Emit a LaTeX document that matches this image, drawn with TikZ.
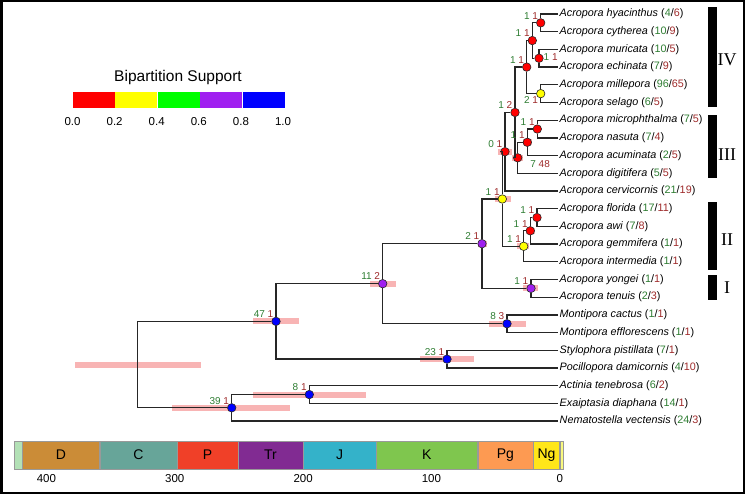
\documentclass[tikz,border=0pt]{standalone}
\usepackage{xcolor}
\usepackage{fontspec}
\setmainfont{Liberation Sans}
\newfontfamily\romanfont{Liberation Serif}
\usepackage{tikz}
\usetikzlibrary{positioning, backgrounds}
\definecolor{Ink}{HTML}{262626}
\definecolor{Hpd}{HTML}{F8B4B4}
\definecolor{SupGreen}{HTML}{2E7D32}
\definecolor{SupRed}{HTML}{9E2A2A}
\definecolor{PPRed}{HTML}{FF0000}
\definecolor{PPYellow}{HTML}{FFFF00}
\definecolor{PPGreen}{HTML}{00FF00}
\definecolor{PPPurple}{HTML}{A020F0}
\definecolor{PPBlue}{HTML}{0000FF}
\definecolor{Sil}{HTML}{B3E1B6}
\definecolor{Dev}{HTML}{CB8C37}
\definecolor{Carb}{HTML}{67A599}
\definecolor{Perm}{HTML}{F04028}
\definecolor{Tria}{HTML}{812B92}
\definecolor{Jura}{HTML}{34B2C9}
\definecolor{Cret}{HTML}{7FC64E}
\definecolor{Pale}{HTML}{FD9A52}
\definecolor{Neog}{HTML}{FFE619}
\definecolor{Quat}{HTML}{F9F97F}
\newcommand{\taxon}[3]{\textit{#1} ({\color{SupGreen}#2}/{\color{SupRed}#3})}
\newcommand{\supp}[2]{{\color{SupGreen}#1}\ {\color{SupRed}#2}}

\begin{document}
\begin{tikzpicture}[
  x=1pt, y=-1pt,
  font=\fontsize{10.8}{13}\selectfont,
  branch/.style={draw=Ink, line width=1.3pt},
  split/.style={circle, draw=Ink, line width=0.6pt, inner sep=0pt, minimum size=8.5pt},
  pp0/.style={split, fill=PPRed},
  pp2/.style={split, fill=PPYellow},
  pp6/.style={split, fill=PPPurple},
  pp8/.style={split, fill=PPBlue},
  tip/.style={anchor=west, inner xsep=1.5pt, inner ysep=1pt},
  supnum/.style={inner sep=0.5pt, font=\fontsize{10}{12}\selectfont},
  bs/.style={supnum, anchor=south east, xshift=-2pt, yshift=3pt},
  hpd/.style={fill=Hpd},
  key/.style={minimum width=42.1pt, minimum height=16pt, inner sep=0pt},
  keylab/.style={font=\fontsize{11.5}{13}\selectfont},
  period/.style={draw=black!40, line width=0.4pt, minimum height=28pt, inner sep=0pt, font=\fontsize{14}{16}\selectfont},
  tick/.style={font=\fontsize{11.5}{13}\selectfont},
  cladebar/.style={fill=black, minimum width=9pt, inner sep=0pt},
  cladelab/.style={font=\romanfont\fontsize{18}{20}\selectfont}
]
\useasboundingbox (0,0) rectangle (745,494);

\node[tip] (t1) at (558,14.0) {\taxon{Acropora hyacinthus}{4}{6}};
\node[tip] (t2) at (558,31.7) {\taxon{Acropora cytherea}{10}{9}};
\node[tip] (t3) at (558,49.4) {\taxon{Acropora muricata}{10}{5}};
\node[tip] (t4) at (558,67.1) {\taxon{Acropora echinata}{7}{9}};
\node[tip] (t5) at (558,84.8) {\taxon{Acropora millepora}{96}{65}};
\node[tip] (t6) at (558,102.5) {\taxon{Acropora selago}{6}{5}};
\node[tip] (t7) at (558,120.2) {\taxon{Acropora microphthalma}{7}{5}};
\node[tip] (t8) at (558,137.9) {\taxon{Acropora nasuta}{7}{4}};
\node[tip] (t9) at (558,155.6) {\taxon{Acropora acuminata}{2}{5}};
\node[tip] (t10) at (558,173.3) {\taxon{Acropora digitifera}{5}{5}};
\node[tip] (t11) at (558,191.0) {\taxon{Acropora cervicornis}{21}{19}};
\node[tip] (t12) at (558,208.7) {\taxon{Acropora florida}{17}{11}};
\node[tip] (t13) at (558,226.4) {\taxon{Acropora awi}{7}{8}};
\node[tip] (t14) at (558,244.1) {\taxon{Acropora gemmifera}{1}{1}};
\node[tip] (t15) at (558,261.8) {\taxon{Acropora intermedia}{1}{1}};
\node[tip] (t16) at (558,279.5) {\taxon{Acropora yongei}{1}{1}};
\node[tip] (t17) at (558,297.2) {\taxon{Acropora tenuis}{2}{3}};
\node[tip] (t18) at (558,314.9) {\taxon{Montipora cactus}{1}{1}};
\node[tip] (t19) at (558,332.6) {\taxon{Montipora efflorescens}{1}{1}};
\node[tip] (t20) at (558,350.3) {\taxon{Stylophora pistillata}{7}{1}};
\node[tip] (t21) at (558,368.0) {\taxon{Pocillopora damicornis}{4}{10}};
\node[tip] (t22) at (558,385.7) {\taxon{Actinia tenebrosa}{6}{2}};
\node[tip] (t23) at (558,403.4) {\taxon{Exaiptasia diaphana}{14}{1}};
\node[tip] (t24) at (558,421.1) {\taxon{Nematostella vectensis}{24}{3}};

\node[pp0] (A) at (540.7,22.85) {};
\node[pp0] (B) at (539.0,58.25) {};
\node[pp0] (C) at (532.3,40.55) {};
\node[pp2] (D) at (540.7,93.65) {};
\node[pp0] (E) at (526.7,67.1) {};
\node[pp0] (G) at (537.3,129.05) {};
\node[pp0] (H) at (527.3,142.3) {};
\node[pp0] (I) at (517.7,157.8) {};
\node[pp0] (F) at (515.0,112.45) {};
\node[pp0] (J) at (505.0,151.7) {};
\node[pp0] (L) at (537.0,217.55) {};
\node[pp0] (M) at (530.3,230.8) {};
\node[pp2] (N) at (523.7,246.3) {};
\node[pp2] (K) at (502.3,199.0) {};
\node[pp6] (O) at (531.0,288.35) {};
\node[pp6] (P) at (482.0,243.7) {};
\node[pp8] (R) at (507.0,323.75) {};
\node[pp6] (Q) at (382.7,283.7) {};
\node[pp8] (S) at (447.0,359.15) {};
\node[pp8] (T) at (276.0,321.4) {};
\node[pp8] (U) at (309.3,394.55) {};
\node[pp8] (V) at (231.7,407.8) {};
\coordinate (W) at (137.7,364.6);

\draw[branch] (t1) -| (A) |- (t2);
\draw[branch] (t3) -| (B) |- (t4);
\draw[branch] (A) -| (C) |- (B);
\draw[branch] (t5) -| (D) |- (t6);
\draw[branch] (C) -| (E) |- (D);
\draw[branch] (t7) -| (G) |- (t8);
\draw[branch] (G) -| (H) |- (t9);
\draw[branch] (H) -| (I) |- (t10);
\draw[branch] (E) -| (F) |- (I);
\draw[branch] (F) -| (J) |- (t11);
\draw[branch] (t12) -| (L) |- (t13);
\draw[branch] (L) -| (M) |- (t14);
\draw[branch] (M) -| (N) |- (t15);
\draw[branch] (J) -| (K) |- (N);
\draw[branch] (t16) -| (O) |- (t17);
\draw[branch] (K) -| (P) |- (O);
\draw[branch] (t18) -| (R) |- (t19);
\draw[branch] (P) -| (Q) |- (R);
\draw[branch] (t20) -| (S) |- (t21);
\draw[branch] (Q) -| (T) |- (S);
\draw[branch] (t22) -| (U) |- (t23);
\draw[branch] (U) -| (V) |- (t24);
\draw[branch] (T) -| (W) |- (V);

\begin{scope}[on background layer]
\fill[hpd] (75,361.6) rectangle (201,367.6);
\fill[hpd] (252.7,318.4) rectangle (299.3,324.4);
\fill[hpd] (370,280.7) rectangle (395.7,286.7);
\fill[hpd] (489.3,320.75) rectangle (525.7,326.75);
\fill[hpd] (420,356.15) rectangle (474.3,362.15);
\fill[hpd] (253.3,391.55) rectangle (365.7,397.55);
\fill[hpd] (172.3,404.8) rectangle (290,410.8);
\fill[hpd] (478,240.7) rectangle (487,246.7);
\fill[hpd] (523,285.35) rectangle (538,291.35);
\fill[hpd] (495,196) rectangle (510.5,202);
\fill[hpd] (517,243.3) rectangle (529,249.3);
\fill[hpd] (526,227.8) rectangle (535,233.8);
\fill[hpd] (534,214.55) rectangle (540,220.55);
\fill[hpd] (497.5,148.7) rectangle (512,154.7);
\fill[hpd] (512.3,154.8) rectangle (523.3,160.8);
\fill[hpd] (523,139.3) rectangle (532,145.3);
\fill[hpd] (535,126.05) rectangle (541,132.05);
\fill[hpd] (511,109.45) rectangle (519,115.45);
\fill[hpd] (523,64.1) rectangle (530,70.1);
\fill[hpd] (529,37.55) rectangle (535,43.55);
\fill[hpd] (538,19.85) rectangle (543,25.85);
\fill[hpd] (536,55.25) rectangle (542,61.25);
\end{scope}

\node[bs] (A-s) at (A) {\supp{1}{1}};
\node[supnum, anchor=west, xshift=4pt, yshift=1pt] (B-s) at (B) {\supp{1}{1}};
\node[bs] (C-s) at (C) {\supp{1}{1}};
\node[supnum, anchor=north east, xshift=-2pt, yshift=-2.5pt] (D-s) at (D) {\supp{2}{1}};
\node[bs] (E-s) at (E) {\supp{1}{1}};
\node[bs] (F-s) at (F) {\supp{1}{2}};
\node[bs] (G-s) at (G) {\supp{1}{1}};
\node[bs] (H-s) at (H) {\supp{1}{1}};
\node[supnum, anchor=north west, xshift=12pt, yshift=-2pt] (I-s) at (I) {\supp{7}{48}};
\node[bs] (J-s) at (J) {\supp{0}{1}};
\node[bs] (K-s) at (K) {\supp{1}{1}};
\node[bs] (L-s) at (L) {\supp{1}{1}};
\node[bs] (M-s) at (M) {\supp{1}{1}};
\node[bs] (N-s) at (N) {\supp{1}{1}};
\node[bs] (O-s) at (O) {\supp{1}{1}};
\node[bs] (P-s) at (P) {\supp{2}{1}};
\node[bs] (Q-s) at (Q) {\supp{11}{2}};
\node[bs] (R-s) at (R) {\supp{8}{3}};
\node[bs] (S-s) at (S) {\supp{23}{1}};
\node[bs] (T-s) at (T) {\supp{47}{1}};
\node[bs] (U-s) at (U) {\supp{8}{1}};
\node[bs] (V-s) at (V) {\supp{39}{1}};

\node[cladebar, minimum height=100pt] (barIV) at (712.2,57.3) {};
\node[cladebar, minimum height=63.3pt] (barIII) at (712.2,146.65) {};
\node[cladebar, minimum height=68.3pt] (barII) at (712.2,235.85) {};
\node[cladebar, minimum height=25pt] (barI) at (712.2,287.5) {};
\node[cladelab] (labIV) at (727,60) {IV};
\node[cladelab] (labIII) at (727,155) {III};
\node[cladelab] (labII) at (727,240) {II};
\node[cladelab] (labI) at (727,288) {I};

\node[font=\fontsize{15.5}{18}\selectfont] (keytitle) at (178,77) {Bipartition Support};
\node[key, fill=PPRed] (k0) at (93.55,100) {};
\node[key, fill=PPYellow, right=0pt of k0] (k2) {};
\node[key, fill=PPGreen, right=0pt of k2] (k4) {};
\node[key, fill=PPPurple, right=0pt of k4] (k6) {};
\node[key, fill=PPBlue, right=0pt of k6] (k8) {};
\node[keylab] (v0) at (72.5,122) {0.0};
\node[keylab] (v2) at (114.6,122) {0.2};
\node[keylab] (v4) at (156.7,122) {0.4};
\node[keylab] (v6) at (198.8,122) {0.6};
\node[keylab] (v8) at (240.9,122) {0.8};
\node[keylab] (v10) at (283,122) {1.0};

\node[period, fill=Sil, minimum width=8.1pt] (sil) at (18.05,455) {};
\node[period, fill=Dev, minimum width=77.1pt, right=0pt of sil] (dev) {D};
\node[period, fill=Carb, minimum width=77pt, right=0pt of dev] (carb) {C};
\node[period, fill=Perm, minimum width=60.3pt, right=0pt of carb] (perm) {P};
\node[period, fill=Tria, minimum width=64.9pt, right=0pt of perm] (tria) {Tr};
\node[period, fill=Jura, minimum width=72.3pt, right=0pt of tria] (jura) {J};
\node[period, fill=Cret, minimum width=101.3pt, right=0pt of jura] (cret) {K};
\node[period, fill=Pale, minimum width=55.2pt, right=0pt of cret] (pale) {Pg};
\node[period, fill=Neog, minimum width=26.2pt, right=0pt of pale] (neog) {Ng};
\node[period, fill=Quat, minimum width=3.3pt, right=0pt of neog] (quat) {};
\node[tick] (m400) at (46.4,479) {400};
\node[tick] (m300) at (174.8,479) {300};
\node[tick] (m200) at (303.1,479) {200};
\node[tick] (m100) at (431.4,479) {100};
\node[tick] (m0) at (559.7,479) {0};

\draw[line width=2.5pt] (1.25,1.25) rectangle (743.75,492.75);
\end{tikzpicture}
\end{document}
